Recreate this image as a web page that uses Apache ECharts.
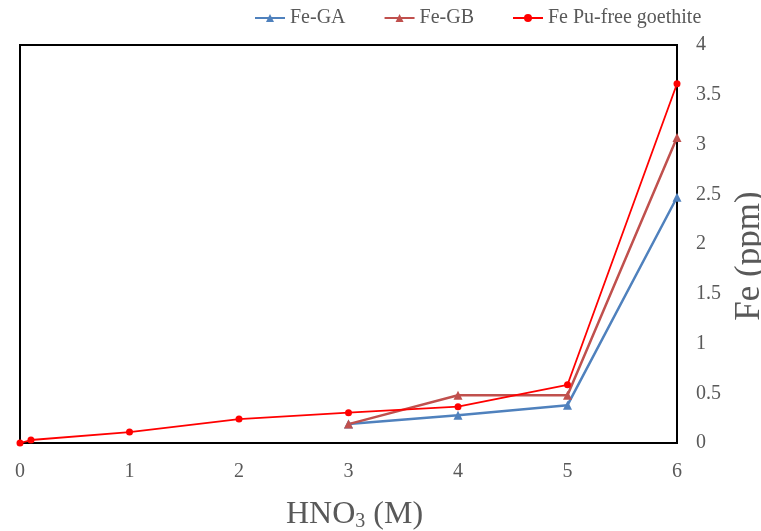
<!DOCTYPE html>
<html><head><meta charset="utf-8">
<script src="https://cdn.jsdelivr.net/npm/echarts@6/dist/echarts.min.js"></script>
<style>html,body{margin:0;padding:0;background:#fff}#c{width:761px;height:531px}</style>
</head><body><div id="c"></div>
<script>
const gaX = [3, 4, 5, 6];
const gaY = [0.19, 0.28, 0.38, 2.47];
const gbX = [3, 4, 5, 6];
const gbY = [0.19, 0.48, 0.48, 3.07];
const redX = [0, 0.1, 1, 2, 3, 4, 5, 6];
const redY = [0, 0.03, 0.11, 0.24, 0.305, 0.365, 0.585, 3.61];
const xTicks = [0, 1, 2, 3, 4, 5, 6];
const yTicks = [0, 0.5, 1, 1.5, 2, 2.5, 3, 3.5, 4];
const zip = (xs, ys) => xs.map((x, i) => [x, ys[i]]);
const font = '"Liberation Serif", "Times New Roman", serif';
const chart = echarts.init(document.getElementById('c'));
chart.setOption({
  animation: false,
  textStyle: { fontFamily: font },
  legend: {
    top: 3, left: 249, itemGap: 38, itemWidth: 30, itemHeight: 10,
    textStyle: { fontFamily: font, fontSize: 20, color: '#595959' },
    data: ['Fe-GA', 'Fe-GB', 'Fe Pu-free goethite']
  },
  grid: { left: 20, right: 84, top: 45, bottom: 88, outerBoundsMode: 'none', containLabel: false,
    show: true, borderColor: '#000', borderWidth: 2, backgroundColor: '#fff' },
  xAxis: {
    type: 'value', min: xTicks[0], max: xTicks[xTicks.length - 1], interval: 1,
    axisLine: { show: true, lineStyle: { color: '#000', width: 2 } },
    axisTick: { show: false }, splitLine: { show: false },
    axisLabel: { color: '#595959', fontSize: 20, fontFamily: font, margin: 19 },
    name: '{a|HNO}{s|3}{a| (M)}', nameLocation: 'middle', nameGap: 54,
    nameTextStyle: { padding: [0, 0, 0, 12], rich: {
      a: { fontFamily: font, fontSize: 32, color: '#595959' },
      s: { fontFamily: font, fontSize: 20, color: '#595959', verticalAlign: 'bottom', padding: [15, 0, 0, 0] }
    } }
  },
  yAxis: {
    type: 'value', position: 'right', min: yTicks[0], max: yTicks[yTicks.length - 1], interval: 0.5,
    axisLine: { show: true, lineStyle: { color: '#000', width: 2 } },
    axisTick: { show: false }, splitLine: { show: false },
    axisLabel: { color: '#595959', fontSize: 20, fontFamily: font, margin: 19 },
    name: 'Fe (ppm)', nameLocation: 'middle', nameGap: 43, nameRotate: 90,
    nameTextStyle: { fontFamily: font, fontSize: 35, color: '#595959', padding: [0, 0, 0, -24] }
  },
  series: [
    { name: 'Fe-GA', type: 'line', data: zip(gaX, gaY), symbol: 'triangle', symbolSize: 9,
      lineStyle: { color: '#4F81BD', width: 2.5 }, itemStyle: { color: '#4F81BD' } },
    { name: 'Fe-GB', type: 'line', data: zip(gbX, gbY), symbol: 'triangle', symbolSize: 9,
      lineStyle: { color: '#C0504D', width: 2.5 }, itemStyle: { color: '#C0504D' } },
    { name: 'Fe Pu-free goethite', type: 'line', data: zip(redX, redY), symbol: 'circle', symbolSize: 7,
      lineStyle: { color: '#FF0000', width: 1.8 }, itemStyle: { color: '#FF0000' } }
  ]
});
</script></body></html>
